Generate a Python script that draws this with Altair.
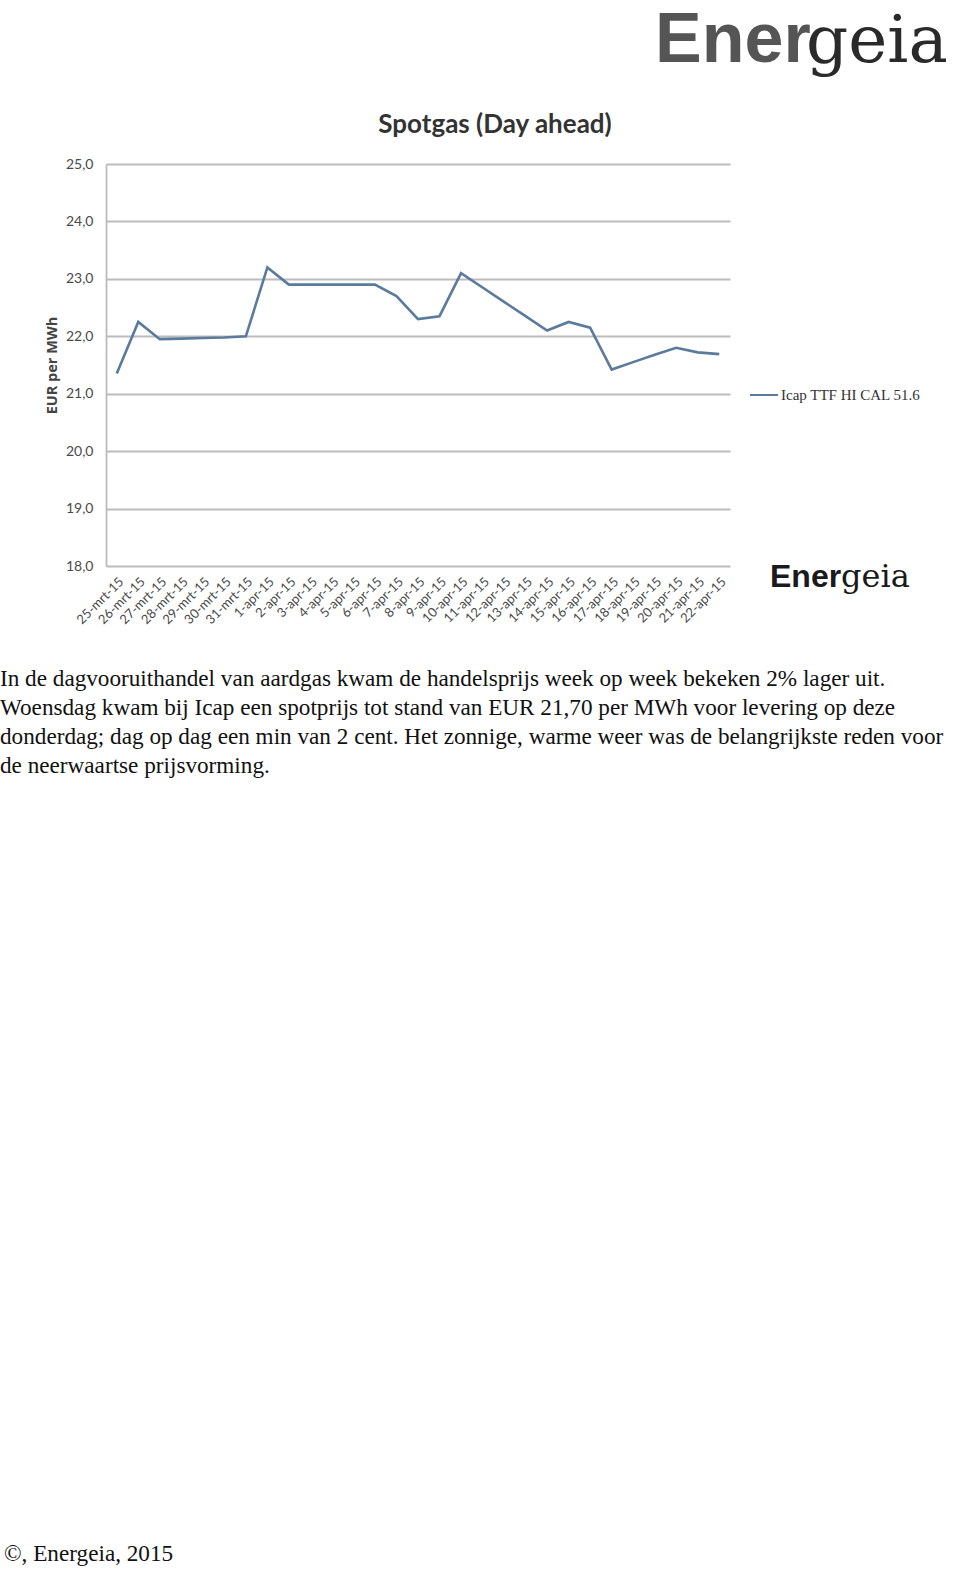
import altair as alt
import pandas as pd

dates = ["25-mrt-15", "26-mrt-15", "27-mrt-15", "28-mrt-15", "29-mrt-15", "30-mrt-15",
         "31-mrt-15", "1-apr-15", "2-apr-15", "3-apr-15", "4-apr-15", "5-apr-15",
         "6-apr-15", "7-apr-15", "8-apr-15", "9-apr-15", "10-apr-15", "11-apr-15",
         "12-apr-15", "13-apr-15", "14-apr-15", "15-apr-15", "16-apr-15", "17-apr-15",
         "18-apr-15", "19-apr-15", "20-apr-15", "21-apr-15", "22-apr-15"]
prices = [21.35, 22.25, 21.95, 21.96, 21.97, 21.98, 22.0, 23.2, 22.9, 22.9, 22.9, 22.9,
          22.9, 22.7, 22.3, 22.35, 23.1, 22.85, 22.6, 22.35, 22.1, 22.25, 22.15, 21.42,
          21.55, 21.68, 21.8, 21.72, 21.69]
y_ticks = [18, 19, 20, 21, 22, 23, 24, 25]

chart_title = "Spotgas (Day ahead)"
y_title = "EUR per MWh"
series_name = "Icap TTF HI CAL 51.6"
logo_a = "Ener"
logo_b = "geia"
body_lines = [
    "In de dagvooruithandel van aardgas kwam de handelsprijs week op week bekeken 2% lager uit.",
    "Woensdag kwam bij Icap een spotprijs tot stand van EUR 21,70 per MWh voor levering op deze",
    "donderdag; dag op dag een min van 2 cent. Het zonnige, warme weer was de belangrijkste reden voor",
    "de neerwaartse prijsvorming.",
]
footer = "©, Energeia, 2015"

df = pd.DataFrame({"datum": dates, "prijs": prices})

# plot area origin on the page
OX, OY = 106, 164
W, H = 624, 402

base = alt.Chart(df)

line = base.mark_line(color="#5a7b9c", strokeWidth=2.6).encode(
    x=alt.X("datum:O", sort=None, scale=alt.Scale(type="point", padding=0.5),
            axis=alt.Axis(title=None, labelAngle=-45, labelFont="Lato", labelFontSize=13,
                          labelColor="#4a4a4a", domain=False, ticks=False, labelPadding=9,
                          grid=False)),
    y=alt.Y("prijs:Q", scale=alt.Scale(domain=[18, 25], nice=False, zero=False),
            axis=alt.Axis(values=y_ticks, title=y_title, titleFont="Open Sans",
                          titleFontSize=14.5, titleFontWeight="bold", titleColor="#444444",
                          titleX=52 - OX, titleY=H / 2, titleAngle=-90,
                          titleBaseline="middle", titleAlign="center",
                          labelExpr="replace(format(datum.value, '.1f'), '.', ',')",
                          labelFont="Lato", labelFontSize=14, labelColor="#4a4a4a",
                          labelPadding=13, ticks=False, domainColor="#bcbcbc",
                          domainWidth=1.8, gridColor="#bcbcbc", gridWidth=1.9)),
)

def txt(text, X, Y, size, font, weight="normal", color="#111111", align="left",
        baseline="alphabetic", **kw):
    return alt.Chart(pd.DataFrame({"t": [0]})).mark_text(
        text=text, font=font, fontSize=size, fontWeight=weight, color=color,
        align=align, baseline=baseline, **kw
    ).encode(x=alt.value(X - OX), y=alt.value(Y - OY))

title_l = txt(chart_title, 495, 133, 26, "Lato", "bold", "#333333", align="center")

legend_rule = alt.Chart(pd.DataFrame({"t": [0]})).mark_rule(
    color="#5a7b9c", strokeWidth=2).encode(
    x=alt.value(750 - OX), x2=alt.value(778 - OX), y=alt.value(395 - OY))
legend_txt = txt(series_name, 781, 395, 15, "Liberation Serif", "normal", "#333333",
                 baseline="middle")

logo1a = txt(logo_a, 655, 62, 70, "Liberation Sans", "bold", "#555555")
logo1b = txt(logo_b, 806, 62, 66, "DejaVu Serif", "normal", "#2a2a2a")
logo2a = txt(logo_a, 770, 587, 32, "Liberation Sans", "bold", "#1a1a1a")
logo2b = txt(logo_b, 841, 587, 32, "DejaVu Serif", "normal", "#1a1a1a")

body = txt(body_lines, 0, 686, 23.2, "Liberation Serif", "normal", "#111111",
           lineHeight=29)
foot = txt(footer, 4, 1561, 23.2, "Liberation Serif", "normal", "#111111")

chart = alt.layer(line, title_l, legend_rule, legend_txt, logo1a, logo1b, logo2a,
                  logo2b, body, foot).properties(
    width=W, height=H,
    autosize=alt.AutoSizeParams(type="none"),
    padding={"left": OX, "top": OY, "right": 960 - OX - W, "bottom": 1570 - OY - H},
    background="white",
).configure_view(stroke=None)

chart.save("out.html", embed_options={"renderer": "svg", "actions": False})
